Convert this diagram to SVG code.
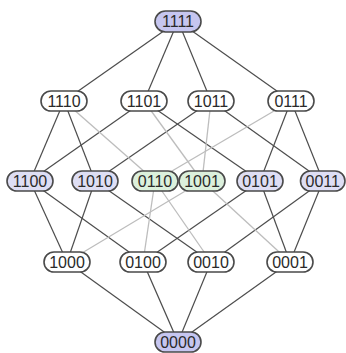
<svg xmlns="http://www.w3.org/2000/svg" width="346" height="353" viewBox="0 0 346 353">
<style>
.n rect{stroke:#4a4a4a;stroke-width:1.6}
.w rect{fill:#ffffff}
.b rect{fill:#c6c6f0}
.p rect{fill:#dedef4}
.g rect{fill:#dcf0dc}
.n text{font-family:"Liberation Sans",Arial,sans-serif;font-size:16px;fill:#2a2a2a;text-anchor:middle;dominant-baseline:central}
.d{stroke:#4d4d4d;stroke-width:1.2;fill:none}
.l{stroke:#bdbdbd;stroke-width:1.3;fill:none}
</style>
<rect width="346" height="353" fill="#ffffff"/>
<g id="connectors">
<g class="d">
<line x1="178" y1="21" x2="64" y2="101"/>
<line x1="178" y1="21" x2="144" y2="101"/>
<line x1="178" y1="21" x2="211" y2="101"/>
<line x1="178" y1="21" x2="291" y2="101"/>
<line x1="64" y1="101" x2="30" y2="181"/>
<line x1="64" y1="101" x2="95" y2="181"/>
<line x1="144" y1="101" x2="30" y2="181"/>
<line x1="144" y1="101" x2="260" y2="181"/>
<line x1="211" y1="101" x2="95" y2="181"/>
<line x1="211" y1="101" x2="323" y2="181"/>
<line x1="291" y1="101" x2="260" y2="181"/>
<line x1="291" y1="101" x2="323" y2="181"/>
<line x1="30" y1="181" x2="67" y2="262"/>
<line x1="30" y1="181" x2="143" y2="262"/>
<line x1="95" y1="181" x2="67" y2="262"/>
<line x1="95" y1="181" x2="211" y2="262"/>
<line x1="260" y1="181" x2="143" y2="262"/>
<line x1="260" y1="181" x2="290" y2="262"/>
<line x1="323" y1="181" x2="211" y2="262"/>
<line x1="323" y1="181" x2="290" y2="262"/>
<line x1="67" y1="262" x2="178" y2="342"/>
<line x1="143" y1="262" x2="178" y2="342"/>
<line x1="211" y1="262" x2="178" y2="342"/>
<line x1="290" y1="262" x2="178" y2="342"/>
</g>
<g class="l">
<line x1="64" y1="101" x2="155" y2="181"/>
<line x1="291" y1="101" x2="155" y2="181"/>
<line x1="144" y1="101" x2="202" y2="181"/>
<line x1="211" y1="101" x2="202" y2="181"/>
<line x1="155" y1="181" x2="143" y2="262"/>
<line x1="155" y1="181" x2="211" y2="262"/>
<line x1="202" y1="181" x2="67" y2="262"/>
<line x1="202" y1="181" x2="290" y2="262"/>
</g>
</g>
<g id="n1111" class="n b"><rect x="155" y="11" width="46" height="21" rx="10.5"/><text x="178" y="21.5">1111</text></g>
<g id="n1110" class="n w"><rect x="41" y="91" width="46" height="20" rx="10"/><text x="64" y="101">1110</text></g>
<g id="n1101" class="n w"><rect x="121" y="91" width="46" height="20" rx="10"/><text x="144" y="101">1101</text></g>
<g id="n1011" class="n w"><rect x="188" y="91" width="46" height="20" rx="10"/><text x="211" y="101">1011</text></g>
<g id="n0111" class="n w"><rect x="268" y="91" width="46" height="20" rx="10"/><text x="291" y="101">0111</text></g>
<g id="n1100" class="n p"><rect x="7" y="171" width="46" height="20" rx="10"/><text x="30" y="181">1100</text></g>
<g id="n1010" class="n p"><rect x="72" y="171" width="46" height="20" rx="10"/><text x="95" y="181">1010</text></g>
<g id="n0110" class="n g"><rect x="132" y="171" width="46" height="20" rx="10"/><text x="155" y="181">0110</text></g>
<g id="n1001" class="n g"><rect x="179" y="171" width="46" height="20" rx="10"/><text x="202" y="181">1001</text></g>
<g id="n0101" class="n p"><rect x="237" y="171" width="46" height="20" rx="10"/><text x="260" y="181">0101</text></g>
<g id="n0011" class="n p"><rect x="300.5" y="171" width="44.5" height="20" rx="10"/><text x="322.75" y="181">0011</text></g>
<g id="n1000" class="n w"><rect x="44" y="252" width="46" height="20" rx="10"/><text x="67" y="262">1000</text></g>
<g id="n0100" class="n w"><rect x="120" y="252" width="46" height="20" rx="10"/><text x="143" y="262">0100</text></g>
<g id="n0010" class="n w"><rect x="188" y="252" width="46" height="20" rx="10"/><text x="211" y="262">0010</text></g>
<g id="n0001" class="n w"><rect x="267" y="252" width="46" height="20" rx="10"/><text x="290" y="262">0001</text></g>
<g id="n0000" class="n b"><rect x="155" y="332" width="46" height="20" rx="10"/><text x="178" y="342">0000</text></g>
</svg>
